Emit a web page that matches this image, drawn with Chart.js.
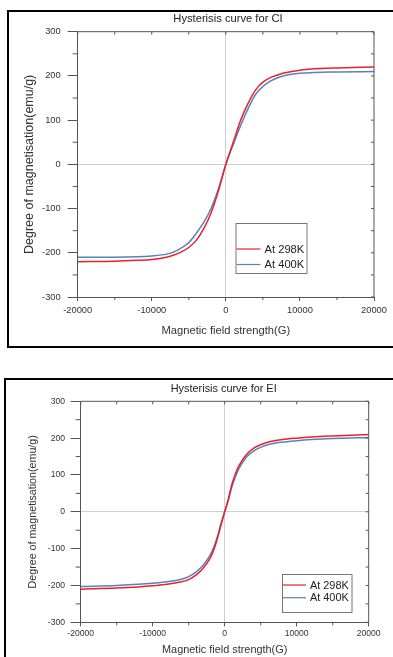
<!DOCTYPE html>
<html>
<head>
<meta charset="utf-8">
<script src="https://cdn.jsdelivr.net/npm/chart.js@4"></script>
<style>
body { margin: 0; background: #fff; width: 393px; height: 657px; overflow: hidden; position: relative; }
.frame { position: absolute; border: 2px solid #000; box-sizing: border-box; z-index: 2; pointer-events: none; }
#f1 { left: 7px; top: 10px; width: 400px; height: 338px; }
#f2 { left: 4px; top: 378px; width: 400px; height: 300px; }
canvas { position: absolute; left: 0; }
#c1 { top: 0; }
#c2 { top: 380px; }
</style>
</head>
<body>
<canvas id="c1" width="393" height="346"></canvas>
<canvas id="c2" width="393" height="277"></canvas>
<div class="frame" id="f1"></div>
<div class="frame" id="f2"></div>
<script>
// field strength (G) vs magnetisation (emu/g)
var fieldCI = [-20000, -15000, -12000, -10000, -8000, -7000, -6000, -5000, -4000, -3000, -2000, -1000, 0,
               1000, 2000, 3000, 4000, 5000, 6000, 7000, 8000, 10000, 12000, 15000, 20000];
var ci298 = [-220, -219, -217, -215, -210, -205, -198, -188, -172, -146, -110, -60, 0,
             50, 100, 138, 168, 186, 196, 202, 207, 213, 216, 218, 220];
var ci400 = [-210, -210, -209, -207, -203, -198, -189, -177, -156, -132, -100, -55, 0,
             45, 88, 126, 158, 176, 188, 196, 201, 206, 208, 209, 210];

var fieldEI = [-20000, -15000, -12000, -10000, -8000, -6000, -5000, -4000, -3000, -2000, -1500, -1000, -500, 0,
               500, 1000, 1500, 2000, 3000, 4000, 5000, 6000, 8000, 10000, 12000, 15000, 20000];
var ei298 = [-210, -207, -204, -201, -197, -190, -184, -172, -153, -125, -102, -72, -35, 0,
             35, 75, 103, 126, 155, 172, 182, 189, 196, 200, 203, 206, 210];
var ei400 = [-203, -200, -197, -194, -190, -183, -176, -164, -145, -117, -95, -66, -30, 0,
             30, 68, 96, 118, 148, 165, 175, 182, 189, 193, 196, 199, 202];

var seriesLabels = ["At 298K", "At 400K"];
var chartTitles = ["Hysterisis curve for CI", "Hysterisis curve for EI"];
var xTitle = "Magnetic field strength(G)";
var yTitle = "Degree of magnetisation(emu/g)";
var xTicks = [-20000, -10000, 0, 10000, 20000];
var yTicks = [-300, -200, -100, 0, 100, 200, 300];

var font = "'Liberation Sans', Arial, sans-serif";

function pts(xs, ys) {
    var out = [];
    for (var i = 0; i < xs.length; i++) {
        out.push({x: xs[i], y: ys[i]});
    }
    return out;
}

// top/right mirror axes, minor ticks, title and the boxed legend
var originFrame = {
    id: 'originFrame',
    afterDraw: function(chart, args, o) {
        var ctx = chart.ctx;
        var a = chart.chartArea;
        var xs = chart.scales.x;
        var ys = chart.scales.y;
        var xv = xs.ticks.map(function(t) { return t.value; });
        var yv = ys.ticks.map(function(t) { return t.value; });
        ctx.save();
        ctx.strokeStyle = '#555';
        ctx.lineWidth = 1;
        ctx.beginPath();
        ctx.moveTo(a.left, a.top);
        ctx.lineTo(a.right, a.top);
        ctx.lineTo(a.right, a.bottom);
        var i, p, m;
        for (i = 0; i < xv.length; i++) {
            p = xs.getPixelForValue(xv[i]);
            ctx.moveTo(p, a.top); ctx.lineTo(p, a.top + 3);
            if (i < xv.length - 1) {
                m = xs.getPixelForValue((xv[i] + xv[i + 1]) / 2);
                ctx.moveTo(m, a.top); ctx.lineTo(m, a.top + 3);
                ctx.moveTo(m, a.bottom); ctx.lineTo(m, a.bottom + 3);
            }
        }
        for (i = 0; i < yv.length; i++) {
            p = ys.getPixelForValue(yv[i]);
            ctx.moveTo(a.right, p); ctx.lineTo(a.right - 3, p);
            if (i < yv.length - 1) {
                m = ys.getPixelForValue((yv[i] + yv[i + 1]) / 2);
                ctx.moveTo(a.right, m); ctx.lineTo(a.right - 3, m);
                ctx.moveTo(a.left, m); ctx.lineTo(a.left - 5, m);
            }
        }
        ctx.stroke();

        ctx.fillStyle = '#222';
        ctx.textAlign = 'center';
        ctx.textBaseline = 'middle';
        ctx.font = o.titleSize + 'px ' + font;
        ctx.fillText(o.title, o.titleX, o.titleY);

        var b = o.legend;
        ctx.strokeStyle = '#777';
        ctx.strokeRect(b.x + 0.5, b.y + 0.5, b.w, b.h);
        ctx.textAlign = 'left';
        ctx.font = b.size + 'px ' + font;
        chart.data.datasets.forEach(function(ds, k) {
            var y = b.rows[k];
            ctx.strokeStyle = ds.borderColor;
            ctx.lineWidth = 1.2;
            ctx.beginPath();
            ctx.moveTo(b.x + 1, y);
            ctx.lineTo(b.x + b.line, y);
            ctx.stroke();
            ctx.fillStyle = '#222';
            ctx.fillText(ds.label, b.x + b.line + 4, y + 0.5);
        });
        ctx.restore();
    }
};

function plain(v) {
    return String(v);
}

function makeChart(id, field, s298, s400, cfg) {
    return new Chart(document.getElementById(id), {
        type: 'line',
        data: {
            datasets: [{
                label: seriesLabels[0],
                data: pts(field, s298),
                borderColor: '#ee1f2b',
                borderWidth: 1.5,
                pointRadius: 0,
                cubicInterpolationMode: 'monotone'
            }, {
                label: seriesLabels[1],
                data: pts(field, s400),
                borderColor: '#5584bd',
                borderWidth: 1.5,
                pointRadius: 0,
                cubicInterpolationMode: 'monotone'
            }]
        },
        options: {
            responsive: false,
            animation: false,
            layout: {padding: cfg.padding},
            plugins: {
                legend: {display: false},
                tooltip: {enabled: false},
                originFrame: cfg.frame
            },
            scales: {
                x: {
                    type: 'linear',
                    min: xTicks[0],
                    max: xTicks[xTicks.length - 1],
                    afterBuildTicks: function(s) { s.ticks = xTicks.map(function(v) { return {value: v}; }); },
                    afterFit: function(s) { s.height = cfg.xHeight; },
                    grid: {
                        color: function(c) { return c.tick && c.tick.value === 0 ? '#cfcfcf' : 'rgba(0,0,0,0)'; },
                        tickColor: '#555',
                        tickLength: 4
                    },
                    border: {color: '#555'},
                    ticks: {color: '#333', font: {family: font, size: cfg.tickSize}, padding: cfg.xPad,
                            maxRotation: 0, callback: plain},
                    title: {display: true, text: xTitle, color: '#333', font: {family: font, size: cfg.xTitleSize},
                            padding: {top: 0, bottom: cfg.xTitlePad}}
                },
                y: {
                    min: yTicks[0],
                    max: yTicks[yTicks.length - 1],
                    afterBuildTicks: function(s) { s.ticks = yTicks.map(function(v) { return {value: v}; }); },
                    afterFit: function(s) { s.width = cfg.yWidth; },
                    grid: {
                        color: function(c) { return c.tick && c.tick.value === 0 ? '#cfcfcf' : 'rgba(0,0,0,0)'; },
                        tickColor: '#555',
                        tickLength: 10
                    },
                    border: {color: '#555'},
                    ticks: {color: '#333', font: {family: font, size: cfg.tickSize}, padding: cfg.yPad, callback: plain},
                    title: {display: true, text: yTitle, color: '#333', font: {family: font, size: cfg.yTitleSize},
                            padding: {top: cfg.yTitlePad, bottom: 0}}
                }
            }
        },
        plugins: [originFrame]
    });
}

makeChart('c1', fieldCI, ci298, ci400, {
    padding: {top: 31.7, right: 19, left: 0, bottom: 0},
    xHeight: 49, yWidth: 77.7,
    tickSize: 9.3, xPad: 3.6, yPad: 7,
    xTitleSize: 11.2, xTitlePad: 8.4,
    yTitleSize: 12.5, yTitlePad: 22.5,
    frame: {
        title: chartTitles[0], titleX: 228, titleY: 19, titleSize: 11.2,
        legend: {x: 235.5, y: 223, w: 71, h: 50, rows: [249, 264.5], line: 25, size: 11.2}
    }
});

makeChart('c2', fieldEI, ei298, ei400, {
    padding: {top: 21.3, right: 24.3, left: 0, bottom: 0},
    xHeight: 34.7, yWidth: 80.7,
    tickSize: 8.6, xPad: 2.5, yPad: 5.7,
    xTitleSize: 10.9, xTitlePad: 0.6,
    yTitleSize: 10.7, yTitlePad: 26.6,
    frame: {
        title: chartTitles[1], titleX: 223.7, titleY: 9.3, titleSize: 10.9,
        legend: {x: 282, y: 194, w: 69.5, h: 38, rows: [205, 217.7], line: 24, size: 10.9}
    }
});
</script>
</body>
</html>
